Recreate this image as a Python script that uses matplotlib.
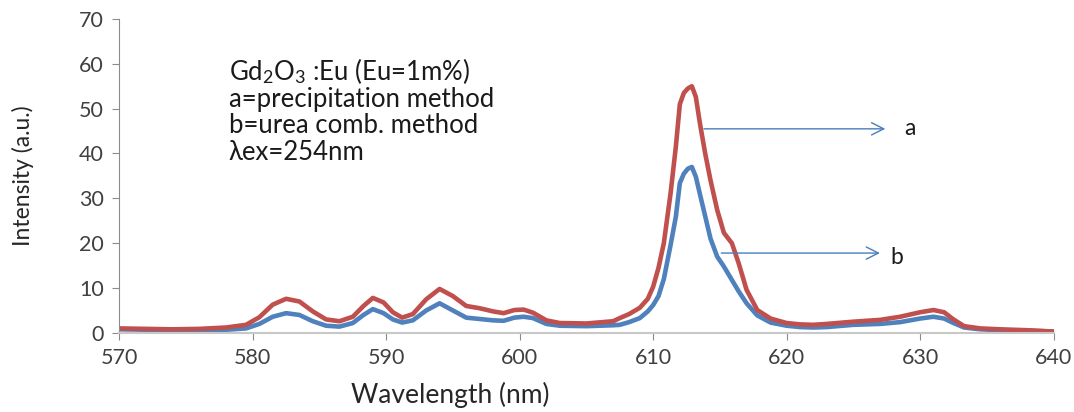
import matplotlib.pyplot as plt

plt.rcParams['font.family'] = ['Lato', 'DejaVu Sans']
plt.rcParams['mathtext.fontset'] = 'custom'
plt.rcParams['mathtext.rm'] = 'Lato'
plt.rcParams['mathtext.it'] = 'Lato:italic'

wavelength = [570, 572, 574, 576, 578, 579.5, 580.5, 581.5, 582.5, 583.5,
              584.5, 585.5, 586.5, 587.5, 588.3, 589, 589.8, 590.5, 591.2, 592,
              593, 594, 595, 596, 597, 598, 598.8, 599.6, 600.3, 601,
              602, 603, 605, 607, 607.5, 608.2, 609, 609.6, 610, 610.4,
              610.8, 611.3, 611.7, 612.0, 612.3, 612.6, 612.9, 613.2, 613.5, 613.9,
              614.3, 614.8, 615.3, 615.9, 616.4, 617.0, 617.8, 618.8, 620, 621,
              622, 623, 625, 627, 628.5, 630, 631, 631.8, 632.5, 633.3,
              634.5, 636, 638, 640]
precipitation = [1.0, 0.9, 0.8, 0.9, 1.2, 1.8, 3.5, 6.3, 7.6, 7.0,
                 4.8, 3.0, 2.6, 3.6, 6.0, 7.8, 6.8, 4.6, 3.4, 4.2,
                 7.5, 9.8, 8.2, 6.0, 5.5, 4.8, 4.4, 5.1, 5.2, 4.5,
                 2.8, 2.2, 2.1, 2.6, 3.3, 4.2, 5.6, 7.6, 10.3, 14.5,
                 20, 31, 41.5, 51, 53.5, 54.5, 55, 52.6, 46.8, 40,
                 34, 27.4, 22.3, 20, 15.6, 9.6, 5.1, 3.2, 2.2, 1.9,
                 1.8, 2.0, 2.5, 2.9, 3.6, 4.6, 5.1, 4.6, 3.0, 1.5,
                 1.0, 0.8, 0.6, 0.3]
urea = [0.8, 0.7, 0.6, 0.6, 0.7, 1.0, 2.0, 3.6, 4.4, 4.0,
        2.6, 1.6, 1.4, 2.2, 4.0, 5.3, 4.4, 3.0, 2.3, 2.8,
        5.0, 6.6, 5.0, 3.4, 3.1, 2.8, 2.7, 3.4, 3.6, 3.3,
        2.0, 1.6, 1.5, 1.7, 1.8, 2.4, 3.3, 4.8, 6.2, 8.2,
        12, 19.5, 25.9, 33.4, 35.5, 36.6, 37, 34.8, 31, 26,
        21, 17, 14.8, 11.8, 9.3, 6.6, 3.9, 2.3, 1.6, 1.3,
        1.2, 1.3, 1.8, 2.0, 2.4, 3.2, 3.6, 3.2, 2.2, 1.2,
        0.8, 0.6, 0.5, 0.3]

x_ticks = [570, 580, 590, 600, 610, 620, 630, 640]
y_ticks = [0, 10, 20, 30, 40, 50, 60, 70]

fig = plt.figure(figsize=(10.74, 4.12), dpi=100)
ax = fig.add_axes([0.111, 0.192, 0.870, 0.762])

ax.plot(wavelength, urea, color='#4f81bd', lw=3.3, solid_capstyle='round',
        solid_joinstyle='round')
ax.plot(wavelength, precipitation, color='#c0504d', lw=3.3, solid_capstyle='round',
        solid_joinstyle='round')

ax.set_xlim(570, 640)
ax.set_ylim(0, 70)
ax.set_xticks(x_ticks)
ax.set_yticks(y_ticks)

for side in ['top', 'right']:
    ax.spines[side].set_visible(False)
ax.spines['left'].set_color('#8c8c8c')
ax.spines['bottom'].set_color('#c8c8c8')
ax.spines['bottom'].set_linewidth(1.5)
ax.tick_params(axis='both', direction='out', length=5, color='#8c8c8c',
               labelsize=15.5, labelcolor='#404040', pad=6)

ax.set_xlabel('Wavelength (nm)', fontsize=19, color='#262626', va='center')
ax.set_ylabel('Intensity (a.u.)', fontsize=16.5, color='#262626', va='center')
ax.xaxis.set_label_coords(0.354, -0.197)
ax.yaxis.set_label_coords(-0.103, 0.5)

# sample / method legend text
ax.text(578.2, 61.8,
        'Gd$_\\mathrm{2}$O$_\\mathrm{3}$ :Eu (Eu=1m%)\na=precipitation method\n'
        'b=urea comb. method\nλex=254nm',
        fontsize=18.5, color='#1a1a1a', va='top', ha='left', linespacing=1.07)

# arrows pointing to each curve
arrow_style = dict(arrowstyle='->', color='#4a7ebb', lw=1.0, mutation_scale=22)
ax.annotate('', xy=(627.6, 45.5), xytext=(613.6, 45.5), arrowprops=arrow_style)
ax.annotate('', xy=(627.2, 17.8), xytext=(614.9, 17.8), arrowprops=arrow_style)
ax.text(628.8, 45.5, 'a', fontsize=16.5, va='center', ha='left', color='#1a1a1a')
ax.text(627.8, 16.8, 'b', fontsize=16.5, va='center', ha='left', color='#1a1a1a')

fig.savefig('out.png', dpi=100)
